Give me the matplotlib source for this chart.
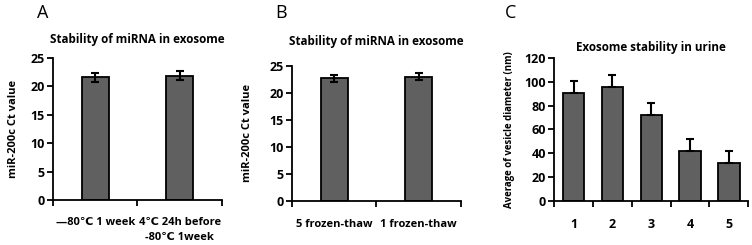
import matplotlib
matplotlib.use("Agg")
from matplotlib import pyplot as plt
import numpy as np

plt.rcParams['font.family'] = ['Open Sans', 'DejaVu Sans']
plt.rcParams['font.weight'] = 'bold'

# panel A
a_labels = ["\u201480\u2103 1 week", "4\u2103 24h before\n-80\u2103 1week"]
a_values = [21.6, 21.9]
a_err = [0.8, 0.8]

# panel B
b_labels = ["5 frozen-thaw", "1 frozen-thaw"]
b_values = [22.7, 23.0]
b_err = [0.7, 0.7]

# panel C
c_labels = ["1", "2", "3", "4", "5"]
c_values = [91, 95.5, 72, 42, 32]
c_err = [10, 10, 10, 10, 10]

bar_color = "#606060"

fig = plt.figure(figsize=(7.52, 2.45), dpi=100)


def panel(rect, labels, values, err, ymax, ystep, title, ylabel, letter, letter_x,
          title_y, pad, both=True, width=0.32, xsize=8, ysize=8):
    ax = fig.add_axes(rect)
    x = np.arange(len(values))
    yerr = err if both else [np.zeros(len(err)), err]
    ax.bar(x, values, width=width, color=bar_color, edgecolor="black", linewidth=1.3,
           yerr=yerr, error_kw=dict(ecolor="black", elinewidth=1.5, capsize=3, capthick=1.5))
    ax.set_xlim(-0.5, len(values) - 0.5)
    ax.set_ylim(0, ymax)
    ax.set_yticks(np.arange(0, ymax + 1, ystep))
    ax.set_xticks(x)
    ax.set_xticklabels(labels, fontsize=xsize, fontweight="bold", linespacing=1.55)
    ax.set_xticks(np.arange(-0.5, len(values), 1), minor=True)
    ax.tick_params(axis="x", which="major", length=0, pad=pad)
    ax.tick_params(axis="x", which="minor", length=4, width=1.3, direction="out")
    ax.tick_params(axis="y", length=4, width=1.3, labelsize=9, pad=2)
    for t in ax.get_yticklabels():
        t.set_fontweight("bold")
    for s in ["top", "right"]:
        ax.spines[s].set_visible(False)
    for s in ["left", "bottom"]:
        ax.spines[s].set_linewidth(1.3)
    ax.set_ylabel(ylabel, fontsize=ysize, fontweight="bold")
    fig.text(rect[0] + rect[2] / 2, title_y, title, ha="center", va="center",
             fontsize=8.4, fontweight="bold")
    fig.text(letter_x, 0.945, letter, ha="left", va="center", fontsize=13,
             fontweight="normal")
    return ax


axA = panel([0.0705, 0.184, 0.2245, 0.579], a_labels, a_values, a_err, 25, 5,
            "Stability of miRNA in exosome", "miR-200c Ct value", "A", 0.049,
            0.837, 12)
axA.yaxis.set_label_coords(-0.2, 0.5)

axB = panel([0.388, 0.180, 0.225, 0.551], b_labels, b_values, b_err, 25, 5,
            "Stability of miRNA in exosome", "miR-200c Ct value", "B", 0.366,
            0.829, 13)
axB.yaxis.set_label_coords(-0.23, 0.5)

axC = panel([0.737, 0.180, 0.258, 0.583], c_labels, c_values, c_err, 120, 20,
            "Exosome stability in urine", "Average of vesicle diameter (nm)", "C",
            0.672, 0.808, 12, both=False, width=0.55, xsize=9, ysize=6.9)
axC.yaxis.set_label_coords(-0.2, 0.5)

fig.savefig("out.png", dpi=100)
